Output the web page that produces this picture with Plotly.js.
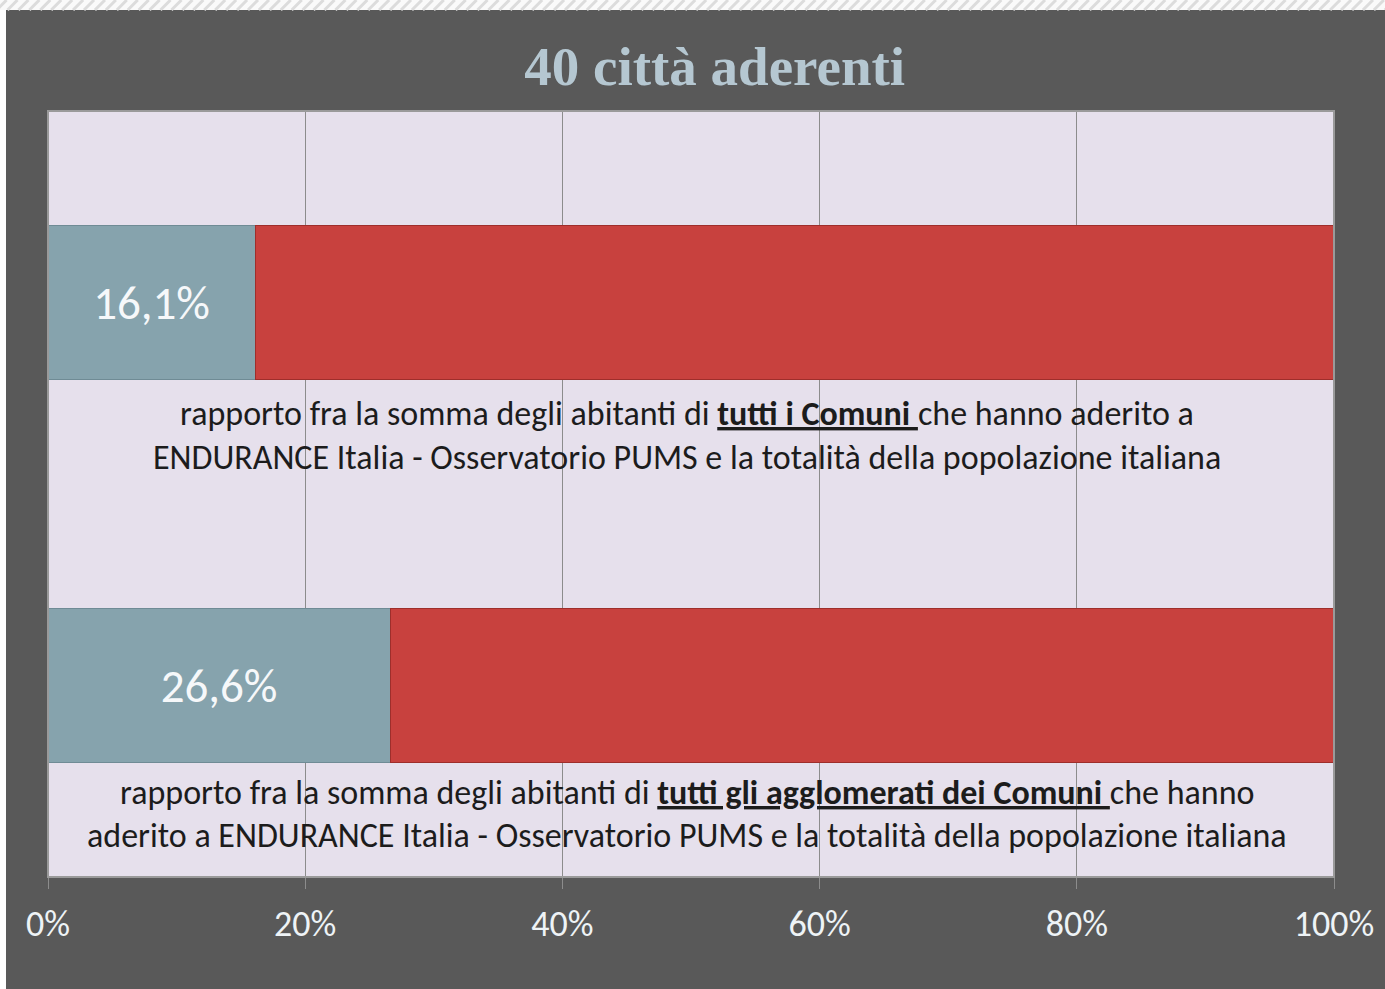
<!DOCTYPE html>
<html>
<head>
<meta charset="utf-8">
<script src="https://cdn.plot.ly/plotly-3.0.1.min.js"></script>
<style>
html,body{margin:0;padding:0;background:#ffffff;}
#chart{width:1385px;height:989px;}
</style>
</head>
<body>
<div id="chart"></div>
<script>
// ---- data ----
const categories = ['tutti i Comuni', 'tutti gli agglomerati dei Comuni'];
const adherentShare = [16.1, 26.6];     // % population of adhering municipalities
const remainingShare = [83.9, 73.4];    // remaining share of Italian population
const tickValues = [0, 20, 40, 60, 80, 100];
const tickLabels = ['0%', '20%', '40%', '60%', '80%', '100%'];
const chartTitle = '40 città aderenti';
const captionLines = [
  ['rapporto fra la somma degli abitanti di <b><span style="text-decoration:underline">tutti i Comuni </span></b>che hanno aderito a',
   'ENDURANCE Italia - Osservatorio PUMS e la totalità della popolazione italiana'],
  ['rapporto fra la somma degli abitanti di <b><span style="text-decoration:underline">tutti gli agglomerati dei Comuni </span></b>che hanno',
   'aderito a ENDURANCE Italia - Osservatorio PUMS e la totalità della popolazione italiana']
];

const sansFont = 'Carlito, Lato, "Open Sans", sans-serif';

const traces = [
  {
    type: 'bar', orientation: 'h',
    y: categories, x: adherentShare,
    marker: {color: '#86a3ad', line: {color: '#6f8b95', width: 1}},
    texttemplate: '%{x:.1f}%',
    textposition: 'inside', insidetextanchor: 'middle', textangle: 0,
    textfont: {family: sansFont, size: 47, color: '#f6f8fa'},
    hoverinfo: 'skip'
  },
  {
    type: 'bar', orientation: 'h',
    y: categories, x: remainingShare,
    marker: {color: '#c8413e', line: {color: '#9e2e2b', width: 1}},
    textposition: 'none',
    hoverinfo: 'skip'
  }
];

// caption annotations (paper coordinates, one per line)
const captionY = [[0.6057, 0.5483], [0.1109, 0.0548]];
const annotations = [];
captionLines.forEach((lines, i) => {
  lines.forEach((t, j) => {
    annotations.push({
      xref: 'paper', yref: 'paper', x: 0.497, y: captionY[i][j],
      xanchor: 'center', yanchor: 'middle', showarrow: false,
      text: t, font: {family: sansFont, size: 34, color: '#1c1c1c'}
    });
  });
});

// hatched top band (decoration of the original screenshot)
const hatch = [];
for (let k = 0; k < 150; k++) {
  const x0 = -0.04 + k * 0.0085;
  hatch.push({type: 'line', xref: 'paper', yref: 'paper',
    x0: x0, x1: x0 + 0.0078, y0: 1.1319, y1: 1.1449,
    line: {color: '#dcdcdc', width: 3}, layer: 'below'});
}

const layout = {
  width: 1385, height: 989,
  paper_bgcolor: '#595959',
  plot_bgcolor: '#e6e0ec',
  margin: {l: 48, r: 51, t: 111, b: 112, pad: 0},
  separators: ',.',
  barmode: 'stack',
  bargap: 0.6,
  showlegend: false,
  title: {
    text: '<b>' + chartTitle + '</b>',
    x: 0.516, xref: 'container', xanchor: 'center',
    y: 0.934, yref: 'container', yanchor: 'middle',
    font: {family: '"Liberation Serif", "DejaVu Serif", serif', size: 55, color: '#b5c7d1'}
  },
  xaxis: {
    range: [0, 100], fixedrange: true,
    tickvals: tickValues, ticktext: tickLabels,
    showgrid: true, gridcolor: '#8c8c8c', gridwidth: 1,
    zeroline: false, showline: false,
    ticks: 'outside', ticklen: 11, tickcolor: '#8c8c8c', tickwidth: 1,
    ticklabelstandoff: 4,
    tickfont: {family: sansFont, size: 36, color: '#eef3f6'}
  },
  yaxis: {
    type: 'category', autorange: false, range: [1.5, -0.5], fixedrange: true,
    showticklabels: false, showgrid: false, zeroline: false, ticks: '',
    showline: false
  },
  annotations: annotations,
  shapes: [
    {type: 'rect', xref: 'paper', yref: 'paper', x0: -0.04, x1: 1.05, y0: 1.1319, y1: 1.15,
     fillcolor: '#fafafa', line: {width: 0}, layer: 'below'}
  ].concat(hatch).concat([
    {type: 'rect', xref: 'paper', yref: 'paper', x0: -0.04, x1: -0.03266, y0: -0.2, y1: 1.1319,
     fillcolor: '#ffffff', line: {width: 0}, layer: 'below'},
    // plot area border
    {type: 'rect', xref: 'paper', yref: 'paper', x0: 0, x1: 1, y0: 0, y1: 1,
     fillcolor: 'rgba(0,0,0,0)', line: {color: '#9a9a9a', width: 2}, layer: 'above'}
  ])
};

Plotly.newPlot('chart', traces, layout, {displayModeBar: false, staticPlot: true});
</script>
</body>
</html>
